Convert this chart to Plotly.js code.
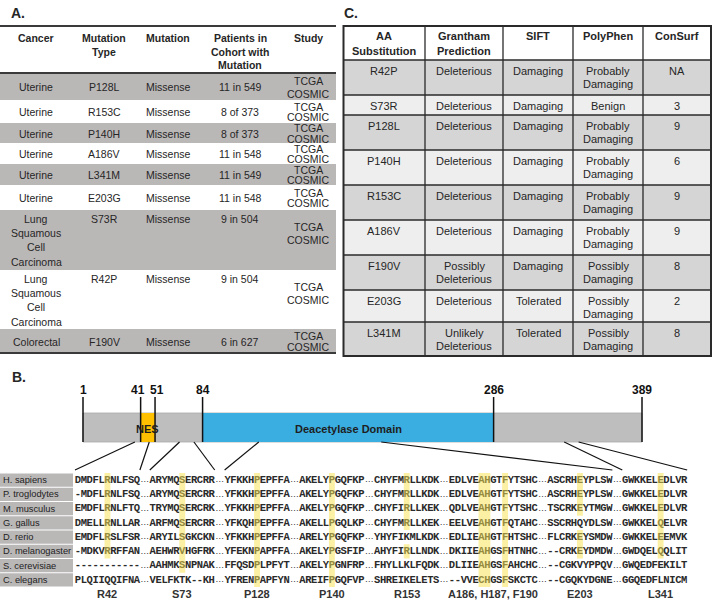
<!DOCTYPE html>
<html>
<head>
<meta charset="utf-8">
<script src="https://cdn.plot.ly/plotly-3.0.1.min.js"></script>
<style>
html, body { margin: 0; padding: 0; background: #ffffff; }
#chart { width: 713px; height: 600px; }
</style>
</head>
<body>
<div id="chart"></div>
<script>
// ======================= DATA =======================
// Panel A
const headerA = ['Cancer', 'Mutation\nType', 'Mutation', 'Patients in\nCohort with\nMutation', 'Study'];
const cancerA = ['Uterine', 'Uterine', 'Uterine', 'Uterine', 'Uterine', 'Uterine',
  'Lung\nSquamous\nCell\nCarcinoma', 'Lung\nSquamous\nCell\nCarcinoma', 'Colorectal'];
const mutationTypeA = ['P128L', 'R153C', 'P140H', 'A186V', 'L341M', 'E203G', 'S73R', 'R42P', 'F190V'];
const mutationA = ['Missense', 'Missense', 'Missense', 'Missense', 'Missense', 'Missense', 'Missense', 'Missense', 'Missense'];
const patientsA = ['11 in 549', '8 of 373', '8 of 373', '11 in 548', '11 in 549', '11 in 548', '9 in 504', '9 in 504', '6 in 627'];
const studyA = ['TCGA\nCOSMIC', 'TCGA\nCOSMIC', 'TCGA\nCOSMIC', 'TCGA\nCOSMIC', 'TCGA\nCOSMIC',
  'TCGA\nCOSMIC', 'TCGA\nCOSMIC', 'TCGA\nCOSMIC', 'TCGA\nCOSMIC'];

// Panel C
const headerC = ['AA\nSubstitution', 'Grantham\nPrediction', 'SIFT', 'PolyPhen', 'ConSurf'];
const substitutionC = ['R42P', 'S73R', 'P128L', 'P140H', 'R153C', 'A186V', 'F190V', 'E203G', 'L341M'];
const granthamC = ['Deleterious', 'Deleterious', 'Deleterious', 'Deleterious', 'Deleterious', 'Deleterious',
  'Possibly\nDeleterious', 'Deleterious', 'Unlikely\nDeleterious'];
const siftC = ['Damaging', 'Damaging', 'Damaging', 'Damaging', 'Damaging', 'Damaging', 'Damaging', 'Tolerated', 'Tolerated'];
const polyphenC = ['Probably\nDamaging', 'Benign', 'Probably\nDamaging', 'Probably\nDamaging', 'Probably\nDamaging',
  'Probably\nDamaging', 'Possibly\nDamaging', 'Possibly\nDamaging', 'Possibly\nDamaging'];
const consurfC = ['NA', '3', '9', '6', '9', '9', '8', '2', '8'];

// Panel B – protein schematic
const boundaryResidues = [1, 41, 51, 84, 286, 389];
const domainNames = ['NES', 'Deacetylase Domain'];
const domainStart = [41, 84];
const domainEnd = [51, 286];

// Panel B – alignment
const species = ['H. sapiens', 'P. troglodytes', 'M. musculus', 'G. gallus', 'D. rerio',
  'D. melanogaster', 'S. cerevisiae', 'C. elegans'];
const seqHsapiens = ['DMDFLRNLFSQ', 'ARYMQSERCRR', 'YFKKHPEPFFA', 'AKELYPGQFKP', 'CHYFMRLLKDK', 'EDLVEAHGTFYTSHC', 'ASCRHEYPLSW', 'GWKKELEDLVR'];
const seqPtroglodytes = ['-MDFLRNLFSQ', 'ARYMQSERCRR', 'YFKKHPEPFFA', 'AKELYPGQFKP', 'CHYFMRLLKDK', 'EDLVEAHGTFYTSHC', 'ASCRHEYPLSW', 'GWKKELEDLVR'];
const seqMmusculus = ['EMDFLRNLFTQ', 'TRYMQSERCRK', 'YFKKHPEPFFA', 'AKELYPGQFKP', 'CHYFIRLLKEK', 'QDLVEAHGTFYTSHC', 'TSCRKEYTMGW', 'GWKKELEDLVR'];
const seqGgallus = ['DMELLRNLLAR', 'ARFMQSERCRR', 'YFKQHPEPFFA', 'AKELLPGQLKP', 'CHYFMRLLKEK', 'EELVEAHGTFQTAHC', 'SSCRHQYDLSW', 'GWKKELQELVR'];
const seqDrerio = ['EMDFLRSLFSR', 'ARYILSGKCKN', 'YFKKHPEPFFA', 'ARELYPGQFKP', 'YHYFIKMLKDK', 'EDLIEAHGTFHTSHC', 'FLCRKEYSMDW', 'GWKKELEEMVK'];
const seqDmelanogaster = ['-MDKVRRFFAN', 'AEHWRVHGFRK', 'YFEKNPAPFFA', 'AKELYPGSFIP', 'AHYFIRLLNDK', 'DKIIEAHGSFHTNHC', '--CRKEYDMDW', 'GWDQELQQLIT'];
const seqScerevisiae = ['-----------', 'AAHMKSNPNAK', 'FFQSDPLPFYT', 'AKELYPGNFRP', 'FHYLLKLFQDK', 'DLIIEAHGSFAHCHC', '--CGKVYPPQV', 'GWQEDFEKILT'];
const seqCelegans = ['PLQIIQQIFNA', 'VELFKTK--KH', 'YFRENPAPFYN', 'AREIFPGQFVP', 'SHREIKELETS', '--VVECHGSFSKCTC', '--CGQKYDGNE', 'GGQEDFLNICM'];
const alignment = [seqHsapiens, seqPtroglodytes, seqMmusculus, seqGgallus, seqDrerio, seqDmelanogaster, seqScerevisiae, seqCelegans];
const segmentFirstResidue = [37, 68, 123, 135, 148, 181, 198, 335];
const linkedSegmentStarts = [0, 1, 2, 7];
const linkedSegmentEnds = [0, 1, 6, 7];

// highlighted alignment columns
const hlSegment = [0, 1, 2, 3, 4, 4, 5, 5, 6, 6, 7];
const hlChar = [5, 5, 5, 5, 5, 5, 5, 9, 5, 5, 6];
const hlWidth = [1, 1, 1, 1, 1, 1, 2, 1, 1, 1, 1];
const hlRowFrom = [0, 0, 0, 0, 0, 5, 0, 0, 0, 4, 0];
const hlRowTo = [5, 6, 7, 7, 3, 5, 7, 7, 2, 5, 5];

// site labels under the alignment
const siteLabels = ['R42', 'S73', 'P128', 'P140', 'R153', 'A186, H187, F190', 'E203', 'L341'];
const siteSegment = [0, 1, 2, 3, 4, 5, 6, 7];
const siteCharFrom = [5, 5, 5, 5, 5, 5, 5, 6];
const siteCharTo = [5, 5, 5, 5, 5, 9, 5, 6];

// ======================= LAYOUT =======================
const W = 713, H = 600;
const FONT = 'Arial, "Liberation Sans", sans-serif';
const MONO = '"Liberation Mono", "DejaVu Sans Mono", monospace';
const NARROW = '"Liberation Sans Narrow", "Arial Narrow", Arial, "Liberation Sans", sans-serif';
const INK = '#262626';

const shapes = [];
const annotations = [];

function rect(xref, yref, x0, x1, y0, y1, fill, lineColor, lineWidth, layer) {
  shapes.push({type: 'rect', xref, yref, x0, x1, y0, y1, fillcolor: fill,
    line: {color: lineColor || 'rgba(0,0,0,0)', width: lineWidth || 0}, layer: layer || 'below'});
}
function seg(xref, yref, x0, y0, x1, y1, color, width) {
  shapes.push({type: 'line', xref, yref, x0, y0, x1, y1, line: {color, width}, layer: 'above'});
}
function label(xref, yref, x, y, text, size, o) {
  o = o || {};
  annotations.push({xref, yref, x, y, text: o.bold ? '<b>' + text + '</b>' : text, showarrow: false,
    xanchor: o.xa || 'center', yanchor: 'middle', borderpad: 0, xshift: o.xshift || 0,
    font: {family: o.family || FONT, size, color: o.color || INK}});
}
function multi(xref, yref, x, yFirst, text, spacing, size, o) {
  text.split('\n').forEach((t, i) => label(xref, yref, x, yFirst + i * spacing, t, size, o));
}
function cum(arr, start) {
  const out = [start];
  arr.forEach(v => out.push(out[out.length - 1] + v));
  return out;
}
// axis range for a linear map: value vA at pixel pA, value vB at pixel pB; full-figure domain
function rangeFor(pA, vA, pB, vB, lo, hi) {
  const k = (vB - vA) / (pB - pA);
  return [vA + (lo - pA) * k, vA + (hi - pA) * k];
}

// ---------- Panel A: table ----------
const A_TOP = 26, A_HEADER = 47;
const colWidthsA = [72, 64, 64, 80, 56];
const rowHeightsA = [27, 23, 20, 21, 21, 25, 60, 59, 24];
const colsA = [cancerA, mutationTypeA, mutationA, patientsA, studyA];
const aEdges = cum(colWidthsA, 0);
const aRight = aEdges[aEdges.length - 1];
const aRowTops = cum(rowHeightsA, A_TOP + A_HEADER);
const grayA = '#bab7b7';

rowHeightsA.forEach((rh, i) => {
  if (i % 2 === 0) rect('x', 'y', 0, aRight, aRowTops[i], aRowTops[i + 1], grayA);
});
headerA.forEach((h, c) => {
  multi('x', 'y', (aEdges[c] + aEdges[c + 1]) / 2, A_TOP + 12, h, 13.5, 10.5, {bold: true});
});
rowHeightsA.forEach((rh, i) => {
  const top = aRowTops[i];
  const tall = colsA.some(col => col[i].split('\n').length > 2);
  colsA.forEach((col, c) => {
    const txt = col[i];
    const n = txt.split('\n').length;
    const cx = (aEdges[c] + aEdges[c + 1]) / 2;
    if (tall) {
      multi('x', 'y', cx, top + 9 + (n === 2 ? 8 : 0), txt, n === 2 ? 13 : 14.2, 10.5);
    } else {
      const sp = n > 1 ? (rh >= 26 ? 13 : 10.5) : 0;
      multi('x', 'y', cx, top + rh / 2 - (n - 1) * sp / 2 + 0.5, txt, sp, 10.5);
    }
  });
});
seg('x', 'y', 0, A_TOP, aRight, A_TOP, '#3a3a3a', 2);
seg('x', 'y', 0, A_TOP + A_HEADER, aRight, A_TOP + A_HEADER, '#3a3a3a', 2);
seg('x', 'y', 0, aRowTops[aRowTops.length - 1], aRight, aRowTops[aRowTops.length - 1], '#3a3a3a', 2);
label('x', 'y', 10, 13, 'A.', 14, {bold: true, xa: 'left'});

// ---------- Panel C: table ----------
const C_LEFT = 343.5, C_TOP = 26, C_HEADER = 34;
const colWidthsC = [81.5, 78, 70, 70, 68];
const rowHeightsC = [35, 20, 35, 35, 35, 35, 35, 32, 34];
const colsC = [substitutionC, granthamC, siftC, polyphenC, consurfC];
const cEdges = cum(colWidthsC, C_LEFT);
const cRight = cEdges[cEdges.length - 1];
const cRowTops = cum(rowHeightsC, C_TOP + C_HEADER);
const cBottom = cRowTops[cRowTops.length - 1];

rowHeightsC.forEach((rh, i) => {
  rect('x', 'y', C_LEFT, cRight, cRowTops[i], cRowTops[i + 1], i % 2 === 0 ? '#d5d5d5' : '#eeeeee');
});
headerC.forEach((h, c) => {
  multi('x', 'y', (cEdges[c] + cEdges[c + 1]) / 2, C_TOP + 10, h, 14.5, 11, {bold: true});
});
rowHeightsC.forEach((rh, i) => {
  colsC.forEach((col, c) => {
    multi('x', 'y', (cEdges[c] + cEdges[c + 1]) / 2, cRowTops[i] + 10.5, col[i], 13.5, 11);
  });
});
for (let c = 1; c < cEdges.length - 1; c++) seg('x', 'y', cEdges[c], C_TOP, cEdges[c], cBottom, '#2a2a2a', 1.3);
for (let r = 0; r < cRowTops.length - 1; r++) seg('x', 'y', C_LEFT, cRowTops[r], cRight, cRowTops[r], '#2a2a2a', 1.3);
rect('x', 'y', C_LEFT, cRight, C_TOP, cBottom, 'rgba(0,0,0,0)', '#2a2a2a', 2, 'above');
label('x', 'y', 343, 13, 'C.', 14, {bold: true, xa: 'left'});

// ---------- Panel B: protein schematic ----------
label('x', 'y', 11, 377, 'B.', 14, {bold: true, xa: 'left'});
const RES_PX0 = 83, RES_PX1 = 642;           // where residue 1 and the last residue are drawn
const firstRes = boundaryResidues[0], lastRes = boundaryResidues[boundaryResidues.length - 1];
const resToPx = r => RES_PX0 + (r - firstRes) * (RES_PX1 - RES_PX0) / (lastRes - firstRes);
const BAR_TOP = 413, BAR_BOT = 442, TICK_TOP = 397;
rect('x2', 'y', firstRes, lastRes, BAR_TOP, BAR_BOT, '#bebebe', '#a9a9a9', 0.8, 'below');
const domainColors = ['#ffc000', '#3aade1'];
domainNames.forEach((d, i) => {
  rect('x2', 'y', domainStart[i], domainEnd[i], BAR_TOP, BAR_BOT, domainColors[i], 'rgba(0,0,0,0)', 0, 'below');
  label('x2', 'y', (domainStart[i] + domainEnd[i]) / 2, 429, d, 11, {bold: true, color: '#1e1e1e'});
});
// boundary ticks; labels that would collide are nudged apart
const MIN_LABEL_GAP = 19;
boundaryResidues.forEach((r, i) => {
  seg('x2', 'y', r, TICK_TOP, r, BAR_BOT, '#111111', 1.5);
  let shift = 0;
  const prev = i > 0 ? resToPx(r) - resToPx(boundaryResidues[i - 1]) : Infinity;
  const next = i < boundaryResidues.length - 1 ? resToPx(boundaryResidues[i + 1]) - resToPx(r) : Infinity;
  if (prev < MIN_LABEL_GAP) shift += (MIN_LABEL_GAP - prev) / 2;
  if (next < MIN_LABEL_GAP) shift -= (MIN_LABEL_GAP - next) / 2;
  label('x2', 'y', r, 390, String(r), 12, {bold: true, family: NARROW, color: '#111111', xshift: shift});
});

// ---------- Panel B: alignment ----------
const CHAR_PX = 5.9, ALIGN_X0 = 75, SEP = 1.68;
const ROW0_TOP = 473, ROW_H = 14.25;
const segLens = seqHsapiens.map(s => s.length);
const segStart = [];
segLens.reduce((acc, len, k) => { segStart[k] = acc; return acc + len + SEP; }, 0);
const charToPx = u => ALIGN_X0 + u * CHAR_PX;
const rowToPx = r => ROW0_TOP + (r + 0.5) * ROW_H;

// sequence characters
const cx = [], cy = [], ct = [], ex = [], ey = [];
alignment.forEach((segs, row) => {
  segs.forEach((s, k) => {
    for (let j = 0; j < s.length; j++) { cx.push(segStart[k] + j + 0.5); cy.push(row); ct.push(s[j]); }
    if (k < segs.length - 1) { ex.push(segStart[k] + s.length + SEP / 2); ey.push(row); }
  });
});

// species label boxes
species.forEach((sp, i) => {
  rect('x', 'y3', 0, 73, i - 0.46, i + 0.46, grayA);
  label('x', 'y3', 1.5, i, sp, 9.3, {xa: 'left', color: '#1e1e1e'});
});

// highlights
hlSegment.forEach((k, i) => {
  const x0 = segStart[k] + hlChar[i];
  rect('x3', 'y3', x0, x0 + hlWidth[i], hlRowFrom[i] - 0.5, hlRowTo[i] + 0.5, 'rgba(247,226,80,0.52)', 'rgba(0,0,0,0)', 0, 'above');
});

// site labels
siteLabels.forEach((s, i) => {
  const k = siteSegment[i];
  label('x3', 'y', segStart[k] + (siteCharFrom[i] + siteCharTo[i]) / 2 + 0.5, 594, s, 11, {bold: true, color: '#333333'});
});

// connectors from the protein bar to the alignment segments
const LINK_BOTTOM = 470;
linkedSegmentStarts.forEach(k => {
  seg('x', 'y', resToPx(segmentFirstResidue[k]), BAR_BOT, charToPx(segStart[k]), LINK_BOTTOM, '#111111', 1.2);
});
linkedSegmentEnds.forEach(k => {
  seg('x', 'y', resToPx(segmentFirstResidue[k] + segLens[k] - 1), BAR_BOT, charToPx(segStart[k] + segLens[k]), LINK_BOTTOM, '#111111', 1.2);
});

// ======================= FIGURE =======================
const hidden = {visible: false, showgrid: false, zeroline: false, fixedrange: true};
const traces = [
  {type: 'scatter', x: [], y: [], xaxis: 'x', yaxis: 'y', hoverinfo: 'skip', showlegend: false},
  {type: 'scatter', x: [], y: [], xaxis: 'x2', yaxis: 'y', hoverinfo: 'skip', showlegend: false},
  {type: 'scatter', mode: 'text', x: cx, y: cy, text: ct, xaxis: 'x3', yaxis: 'y3',
    textposition: 'middle center', cliponaxis: false, hoverinfo: 'skip', showlegend: false,
    textfont: {family: MONO, size: 10.5, color: '#2a2a2a', weight: 'bold'}},
  {type: 'scatter', mode: 'text', x: ex, y: ey, text: ex.map(() => '…'), xaxis: 'x3', yaxis: 'y3',
    textposition: 'middle center', cliponaxis: false, hoverinfo: 'skip', showlegend: false,
    textfont: {family: FONT, size: 9, color: '#333333'}}
];

const layout = {
  width: W, height: H,
  margin: {l: 0, r: 0, t: 0, b: 0, pad: 0},
  paper_bgcolor: '#ffffff', plot_bgcolor: 'rgba(0,0,0,0)',
  showlegend: false, hovermode: false,
  xaxis: Object.assign({}, hidden, {domain: [0, 1], range: [0, W], anchor: 'y'}),
  yaxis: Object.assign({}, hidden, {domain: [0, 1], range: [H, 0], anchor: 'x'}),
  xaxis2: Object.assign({}, hidden, {domain: [0, 1], anchor: 'y',
    range: rangeFor(RES_PX0, firstRes, RES_PX1, lastRes, 0, W)}),
  xaxis3: Object.assign({}, hidden, {domain: [0, 1], anchor: 'y3',
    range: rangeFor(ALIGN_X0, 0, ALIGN_X0 + CHAR_PX, 1, 0, W)}),
  yaxis3: Object.assign({}, hidden, {domain: [0, 1], anchor: 'x3',
    range: rangeFor(rowToPx(0), 0, rowToPx(1), 1, H, 0)}),
  shapes, annotations
};

Plotly.newPlot('chart', traces, layout, {staticPlot: true, displayModeBar: false});
</script>
</body>
</html>
